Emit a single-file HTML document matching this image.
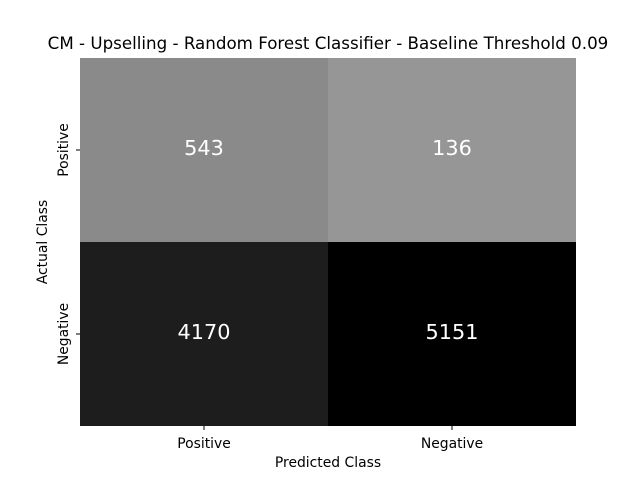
<!DOCTYPE html>
<html><head><meta charset="utf-8"><style>
body{margin:0;background:#fff;}
svg text{font-family:"DejaVu Sans","Liberation Sans",sans-serif;}
</style></head><body>
<svg id="chart" width="640" height="480" xmlns="http://www.w3.org/2000/svg">
<text x="328" y="49" text-anchor="middle" font-size="16.7" fill="#000">CM - Upselling - Random Forest Classifier - Baseline Threshold 0.09</text>
<g id="cells"></g>
<g id="axes"></g>
<text x="328" y="467" text-anchor="middle" font-size="13.9" fill="#000">Predicted Class</text>
<text transform="translate(47,242) rotate(-90)" text-anchor="middle" font-size="13.9" fill="#000">Actual Class</text>
</svg>
<script>
const xCategories = ["Positive", "Negative"];
const yCategories = ["Positive", "Negative"];
const cellValues = [[543, 136], [4170, 5151]];

const L = 80, T = 58, W = 496, H = 368;
const ns = "http://www.w3.org/2000/svg";
const cw = W / xCategories.length, ch = H / yCategories.length;
const flat = cellValues.flat();
const vmin = Math.min(...flat), vmax = Math.max(...flat);
function xPos(i){ return L + i * cw; }
function yPos(j){ return T + j * ch; }
function shade(v){ const g = Math.round(150 * (1 - (v - vmin) / (vmax - vmin))); return `rgb(${g},${g},${g})`; }
const cells = document.getElementById('cells');
const axes = document.getElementById('axes');
cellValues.forEach((row, j) => row.forEach((v, i) => {
  const r = document.createElementNS(ns, 'rect');
  r.setAttribute('x', xPos(i)); r.setAttribute('y', yPos(j));
  r.setAttribute('width', cw); r.setAttribute('height', ch);
  r.setAttribute('fill', shade(v));
  
  
  cells.appendChild(r);
  const t = document.createElementNS(ns, 'text');
  t.setAttribute('x', xPos(i) + cw / 2); t.setAttribute('y', yPos(j) + ch / 2 + 5);
  t.setAttribute('text-anchor', 'middle'); t.setAttribute('font-size', '20.8'); t.setAttribute('fill', '#fff');
  t.textContent = v;
  
  
  cells.appendChild(t);
}));
xCategories.forEach((c, i) => {
  const x = xPos(i) + cw / 2;
  const l = document.createElementNS(ns, 'line');
  l.setAttribute('x1', x); l.setAttribute('x2', x); l.setAttribute('y1', T + H); l.setAttribute('y2', T + H + 4);
  l.setAttribute('stroke', '#000');
  
  
  axes.appendChild(l);
  const t = document.createElementNS(ns, 'text');
  t.setAttribute('x', x); t.setAttribute('y', T + H + 22); t.setAttribute('text-anchor', 'middle'); t.setAttribute('font-size', '13.9');
  t.textContent = c;
  
  
  axes.appendChild(t);
});
yCategories.forEach((c, j) => {
  const y = yPos(j) + ch / 2;
  const l = document.createElementNS(ns, 'line');
  l.setAttribute('x1', L - 4); l.setAttribute('x2', L); l.setAttribute('y1', y); l.setAttribute('y2', y);
  l.setAttribute('stroke', '#000');
  
  
  axes.appendChild(l);
  const t = document.createElementNS(ns, 'text');
  t.setAttribute('transform', `translate(${L - 12},${y}) rotate(-90)`);
  t.setAttribute('text-anchor', 'middle'); t.setAttribute('font-size', '13.9');
  t.textContent = c;
  
  
  axes.appendChild(t);
});
</script>
</body></html>
